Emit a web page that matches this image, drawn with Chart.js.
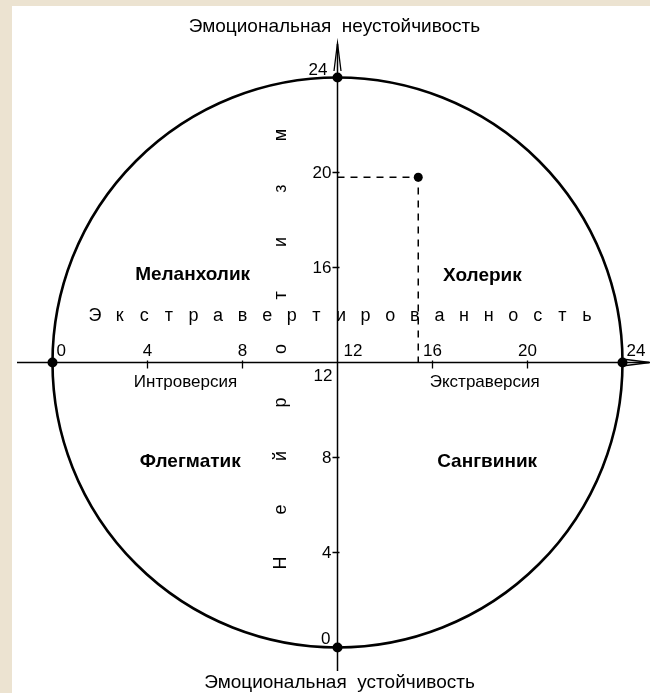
<!DOCTYPE html>
<html><head><meta charset="utf-8">
<script src="https://cdn.jsdelivr.net/npm/chart.js@4"></script>
<style>
html,body{margin:0;padding:0;background:#ece3d1;overflow:hidden}
#wrap{position:absolute;left:0;top:0;width:650px;height:693px}
</style></head>
<body><div id="wrap"><canvas id="c" width="650" height="693"></canvas></div>
<script>
// ---- data ----
const tickValues = [0, 4, 8, 12, 16, 20, 24];
const personPoint = [{x: 15.4, y: 19.8}];
const poles = [{x: 0, y: 12}, {x: 24, y: 12}, {x: 12, y: 0}, {x: 12, y: 24}];
const guideLine = [{x: 12, y: 19.8}, {x: 15.4, y: 19.8}, {x: 15.4, y: 12}];
const quadrantLabels = ['Меланхолик', 'Холерик', 'Флегматик', 'Сангвиник'];
const quadrantAt = [{x: 5.9, y: 15.7}, {x: 18.1, y: 15.65}, {x: 5.8, y: 7.8}, {x: 18.3, y: 7.8}];
const sideLabels = ['Интроверсия', 'Экстраверсия'];
const sideAt = [{x: 5.6, y: 11.15}, {x: 18.2, y: 11.15}];
const topTitle = 'Эмоциональная  неустойчивость';
const bottomTitle = 'Эмоциональная  устойчивость';
const hWord = 'Экстравертированность';
const vWord = 'Нейротизм';

const FONT = '"Liberation Sans", Arial, Helvetica, sans-serif';
const INK = '#000';

const drawPlugin = {
  id: 'eysenck',
  beforeDraw(chart) {
    const ctx = chart.ctx;
    ctx.save();
    ctx.fillStyle = '#ffffff';
    ctx.fillRect(12, 6, 650 - 12, 693 - 6);
    ctx.restore();
  },
  beforeDatasetsDraw(chart) {
    const ctx = chart.ctx;
    const xs = chart.scales.x, ys = chart.scales.y;
    const cx = xs.getPixelForValue(12), cy = ys.getPixelForValue(12);
    const r = xs.getPixelForValue(24) - cx;
    ctx.save();
    ctx.strokeStyle = INK;
    ctx.fillStyle = INK;
    // circle
    ctx.lineWidth = 2.6;
    ctx.beginPath();
    ctx.arc(cx, cy, r, 0, Math.PI * 2);
    ctx.stroke();
    // axes
    ctx.lineWidth = 1.5;
    ctx.beginPath();
    ctx.moveTo(17, cy); ctx.lineTo(649, cy);
    ctx.moveTo(cx, 671); ctx.lineTo(cx, 44);
    ctx.stroke();
    // arrows
    ctx.lineWidth = 1.3;
    ctx.beginPath();
    ctx.moveTo(cx - 3.5, 71); ctx.lineTo(cx, 43); ctx.lineTo(cx + 3.5, 71);
    ctx.moveTo(622, cy - 3.5); ctx.lineTo(650, cy); ctx.lineTo(622, cy + 3.5);
    ctx.stroke();
    // ticks
    ctx.lineWidth = 1.3;
    ctx.beginPath();
    tickValues.forEach(v => {
      if (v === 0 || v === 12 || v === 24) return;
      const px = xs.getPixelForValue(v);
      ctx.moveTo(px, cy - 2); ctx.lineTo(px, cy + 6);
      const py = ys.getPixelForValue(v);
      ctx.moveTo(cx - 5, py); ctx.lineTo(cx + 2, py);
    });
    ctx.stroke();
    // tick labels
    ctx.font = '17px ' + FONT;
    ctx.textBaseline = 'alphabetic';
    tickValues.forEach(v => {
      const px = xs.getPixelForValue(v);
      const t = String(v);
      if (v === 0) { ctx.textAlign = 'left'; ctx.fillText(t, px + 4, cy - 7); }
      else if (v === 12) { ctx.textAlign = 'left'; ctx.fillText(t, px + 6, cy - 7); }
      else if (v === 24) { ctx.textAlign = 'left'; ctx.fillText(t, px + 4, cy - 7); }
      else { ctx.textAlign = 'center'; ctx.fillText(t, px, cy - 7); }
    });
    ctx.textAlign = 'right';
    tickValues.forEach(v => {
      const py = ys.getPixelForValue(v);
      const t = String(v);
      if (v === 24) { ctx.fillText(t, cx - 10, py - 3); }
      else if (v === 0) { ctx.fillText(t, cx - 7, py - 4); }
      else if (v === 12) { ctx.fillText(t, cx - 5, py + 18); }
      else { ctx.textBaseline = 'middle'; ctx.fillText(t, cx - 6, py + 1); ctx.textBaseline = 'alphabetic'; }
    });
    // titles
    ctx.textAlign = 'center';
    ctx.textBaseline = 'middle';
    ctx.font = '19px ' + FONT;
    ctx.fillText(topTitle, cx - 3, 27);
    ctx.fillText(bottomTitle, cx + 2, 683);
    // quadrant labels
    ctx.font = 'bold 19px ' + FONT;
    quadrantLabels.forEach((s, i) => {
      ctx.fillText(s, xs.getPixelForValue(quadrantAt[i].x), ys.getPixelForValue(quadrantAt[i].y));
    });
    ctx.font = '17px ' + FONT;
    sideLabels.forEach((s, i) => {
      ctx.fillText(s, xs.getPixelForValue(sideAt[i].x), ys.getPixelForValue(sideAt[i].y));
    });
    // spaced horizontal word
    ctx.font = '18px ' + FONT;
    const hChars = Array.from(hWord);
    hChars.forEach((ch, i) => {
      ctx.fillText(ch, cx + 3.5 + (i - 10) * 24.6, cy - 46.5);
    });
    // vertical word, rotated
    const vChars = Array.from(vWord);
    vChars.forEach((ch, i) => {
      ctx.save();
      ctx.translate(cx - 56.5, cy + 200.5 - i * 53.5);
      ctx.rotate(-Math.PI / 2);
      ctx.fillText(ch, 0, 0);
      ctx.restore();
    });
    ctx.restore();
  }
};

new Chart(document.getElementById('c'), {
  type: 'scatter',
  data: {
    datasets: [
      { data: guideLine, showLine: true, borderColor: INK, borderWidth: 1.5, borderDash: [7, 6], pointRadius: 0, fill: false, clip: false },
      { data: personPoint, pointRadius: 4.5, pointBackgroundColor: '#000', pointBorderWidth: 0, clip: false },
      { data: poles, pointRadius: 5, pointBackgroundColor: '#000', pointBorderWidth: 0, clip: false }
    ]
  },
  options: {
    responsive: false,
    devicePixelRatio: 1,
    animation: false,
    layout: { padding: { left: 52.5, right: 27.5, top: 77.5, bottom: 45.5 } },
    scales: {
      x: { type: 'linear', min: 0, max: 24, display: false },
      y: { type: 'linear', min: 0, max: 24, display: false }
    },
    plugins: { legend: { display: false }, tooltip: { enabled: false } }
  },
  plugins: [drawPlugin]
});
</script>
</body></html>
